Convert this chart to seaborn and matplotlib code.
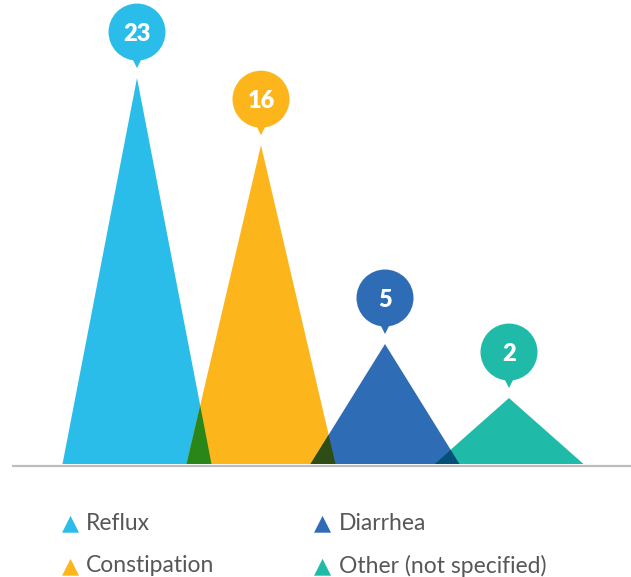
import numpy as np
import pandas as pd
import matplotlib
matplotlib.use("Agg")
import matplotlib.pyplot as plt
import matplotlib.colors as mcolors
import seaborn as sns

# ---- data ----
categories = ["Reflux", "Constipation", "Diarrhea", "Other (not specified)"]
values = [23, 16, 5, 2]                 # numbers shown in the bubbles
peak_heights = [23, 19.0, 7.15, 3.93]   # drawn peak heights
colors = ["#2BBDE9", "#FDB51C", "#2E6CB5", "#1FBBA8"]

# ---- layout constants ----
W, H, DPI = 631, 577, 100
x_first_px, x_step_px = 137, 124
base_px_from_top = 464
ppu = 16.78                     # pixels per value unit
half_w = 74.5 / x_step_px       # triangle half base width in category units

sns.set_theme(style="white")
plt.rcParams["font.family"] = ["Lato", "DejaVu Sans"]

fig = plt.figure(figsize=(W / DPI, H / DPI), dpi=DPI)
ax = fig.add_axes([0, 0, 1, 1])
ax.set_xlim(-x_first_px / x_step_px, (W - x_first_px) / x_step_px)
ybot = -(H - base_px_from_top) / ppu
ax.set_ylim(ybot, base_px_from_top / ppu)
ax.axis("off")

xs = np.arange(len(categories))

# triangles
for x, h, c in zip(xs, peak_heights, colors):
    ax.fill([x - half_w, x, x + half_w], [0, h, 0], color=c, lw=0, zorder=2)

# overlaps (multiply blend)
def line(p, q):
    a = q[1] - p[1]
    b = p[0] - q[0]
    return a, b, a * p[0] + b * p[1]

for i in range(len(xs) - 1):
    x1, h1 = xs[i], peak_heights[i]
    x2, h2 = xs[i + 1], peak_heights[i + 1]
    if x1 + half_w <= x2 - half_w:
        continue
    a1, b1, c1 = line((x1, h1), (x1 + half_w, 0))
    a2, b2, c2 = line((x2 - half_w, 0), (x2, h2))
    det = a1 * b2 - a2 * b1
    ix = (c1 * b2 - c2 * b1) / det
    iy = (a1 * c2 - a2 * c1) / det
    blend = np.array(mcolors.to_rgb(colors[i])) * np.array(mcolors.to_rgb(colors[i + 1]))
    ax.fill([x2 - half_w, ix, x1 + half_w], [0, iy, 0], color=blend, lw=0, zorder=3)

# baseline
ax.plot([(12 - x_first_px) / x_step_px, ax.get_xlim()[1]], [-1.5 / ppu, -1.5 / ppu],
        color="#BDBDBD", lw=1.6, zorder=1, solid_capstyle="butt")

# bubbles
bubble_off = 46 / ppu
tip_off = 15 / ppu
df = pd.DataFrame({"x": xs, "y": np.array(peak_heights) + bubble_off,
                   "ty": np.array(peak_heights) + tip_off, "cat": categories})
pal = dict(zip(categories, colors))
sns.scatterplot(data=df, x="x", y="y", hue="cat", palette=pal, s=(57 * 0.72) ** 2,
                marker="o", linewidth=0, legend=False, ax=ax, zorder=5)
ax.scatter(df["x"], df["ty"], c=colors, s=(10 * 0.72) ** 2, marker="v",
           linewidths=0, zorder=4)
for x, yv, v in zip(xs, df["y"], values):
    ax.text(x, yv, str(v), ha="center", va="center_baseline", color="white",
            fontsize=17, fontweight="heavy", zorder=6)
ax.set_xlabel("")
ax.set_ylabel("")

# legend (2 columns, filled column-wise)
col_px = [70, 323]
row_px = [523, 566]
for k, (cat, c) in enumerate(zip(categories, colors)):
    cx = col_px[k // 2]
    cy = row_px[k % 2]
    fig.text(cx / W, 1 - cy / H, "\u25B2", color=c, fontsize=16, ha="center",
             va="center", family="DejaVu Sans")
    fig.text((cx + 16) / W, 1 - cy / H, cat, color="#575757", fontsize=16.5,
             ha="left", va="center")

fig.savefig("out.png", dpi=DPI)
